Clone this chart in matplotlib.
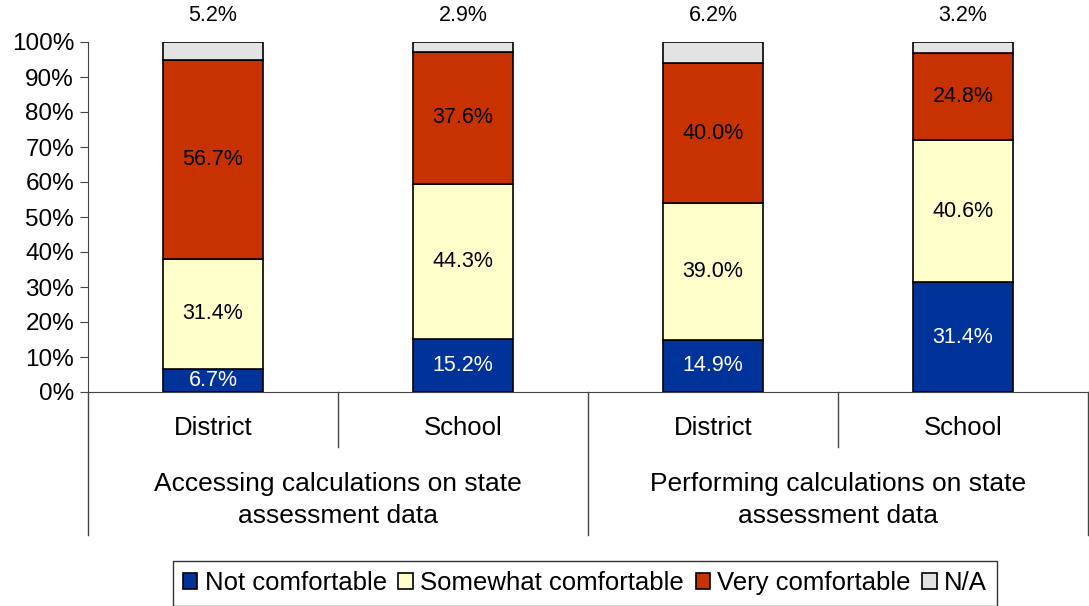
import matplotlib
matplotlib.use("Agg")
import matplotlib.pyplot as plt
import numpy as np

plt.rcParams['font.family'] = ['Liberation Sans', 'DejaVu Sans']

categories = ["District", "School", "District", "School"]
groups = ["Accessing calculations on state\nassessment data",
          "Performing calculations on state\nassessment data"]
series_names = ["Not comfortable", "Somewhat comfortable", "Very comfortable", "N/A"]
not_comf = [6.7, 15.2, 14.9, 31.4]
somewhat = [31.4, 44.3, 39.0, 40.6]
very = [56.7, 37.6, 40.0, 24.8]
na = [5.2, 2.9, 6.2, 3.2]
colors = ["#003399", "#FFFFCC", "#C83200", "#E3E3E3"]
text_colors = ["white", "black", "black", "black"]

fig = plt.figure(figsize=(10.89, 6.06), dpi=100)
ax = fig.add_axes([88/1089, (606-392)/606, 1000/1089, 350/606])

x = np.arange(len(categories))
bottom = np.zeros(len(categories))
for i, vals in enumerate([not_comf, somewhat, very, na]):
    vals = np.array(vals)
    ax.bar(x, vals, 0.4, bottom=bottom, color=colors[i], edgecolor="black",
           linewidth=1.2, label=series_names[i])
    for xi, b, v in zip(x, bottom, vals):
        if i < 3:
            ax.text(xi, b + v / 2, f"{v:.1f}%", ha="center", va="center",
                    fontsize=15.5, color=text_colors[i])
        else:
            ax.text(xi, 107.5, f"{v:.1f}%", ha="center", va="center",
                    fontsize=15.5, color="black")
    bottom += vals

ax.set_xlim(-0.5, 3.5)
ax.set_ylim(0, 100)
ax.set_yticks(np.arange(0, 101, 10))
ax.set_yticklabels([f"{t}%" for t in range(0, 101, 10)], fontsize=17.5)
ax.tick_params(axis="y", direction="out", length=6, color="#444444", pad=4)
ax.set_xticks([])
for s in ["top", "right"]:
    ax.spines[s].set_visible(False)
ax.spines["left"].set_color("#444444")
ax.spines["bottom"].set_color("#444444")

trans = ax.get_xaxis_transform()
for xs in [0.5, 2.5]:
    ax.plot([xs, xs], [0, -55/350], transform=trans, color="#444444", lw=1, clip_on=False)
for xs in [-0.5, 1.5, 3.5]:
    ax.plot([xs, xs], [0, -143/350], transform=trans, color="#444444", lw=1, clip_on=False)
for xi, c in zip(x, categories):
    ax.text(xi, -36/350, c, transform=trans, ha="center", va="center", fontsize=18.5)
for gi, g in enumerate(groups):
    ax.text(gi * 2 + 0.5, -108/350, g, transform=trans, ha="center", va="center",
            fontsize=19, linespacing=1.38)

leg = fig.legend(loc="upper center", bbox_to_anchor=(585/1089, 1 - 561/606), ncol=4,
                 fontsize=18.5, frameon=True, fancybox=False, edgecolor="black",
                 handlelength=0.55, handleheight=0.55, handletextpad=0.3,
                 columnspacing=0.45, borderpad=0.4, borderaxespad=0)
leg.get_frame().set_linewidth(1)

fig.savefig("out.png", dpi=100)
